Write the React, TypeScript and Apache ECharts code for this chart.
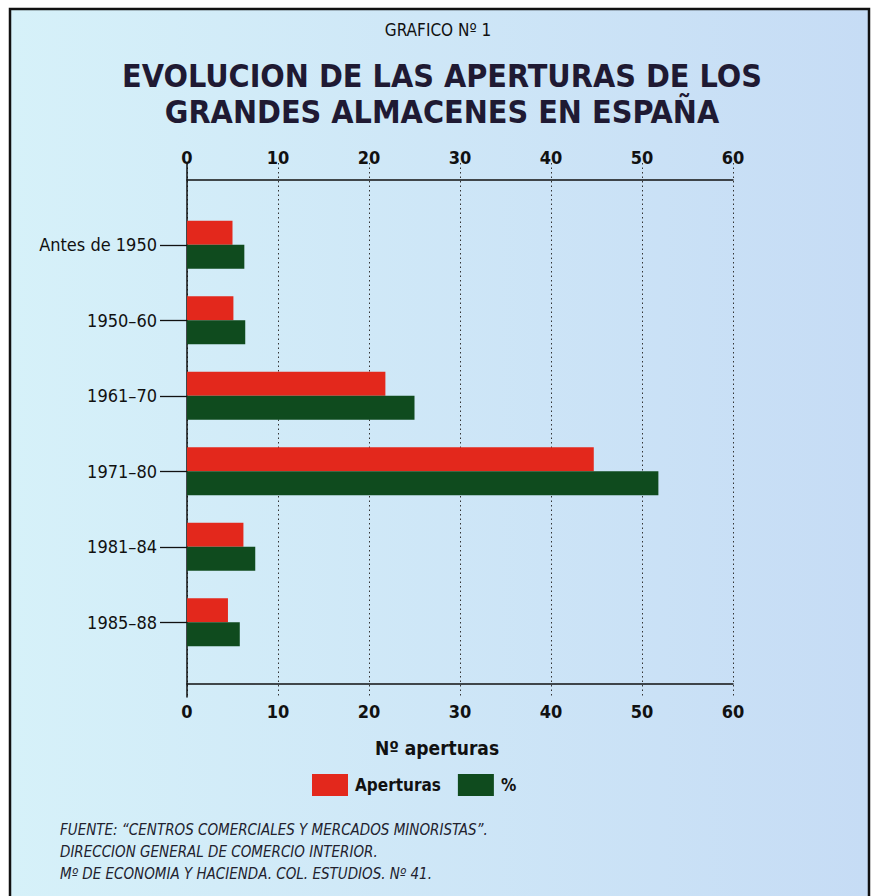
import React, { useEffect, useRef } from "react";
import * as echarts from "echarts";

const categories = ["Antes de 1950", "1950–60", "1961–70", "1971–80", "1981–84", "1985–88"];
const aperturas = [5.0, 5.1, 21.8, 44.7, 6.2, 4.5];
const porcentaje = [6.3, 6.4, 25.0, 51.8, 7.5, 5.8];
const xTicks = { min: 0, max: 60, interval: 10 };
const legendNames = ["Aperturas", "%"];
const supTitle = "GRAFICO Nº 1";
const titleLines = ["EVOLUCION DE LAS APERTURAS DE LOS", "GRANDES ALMACENES EN ESPAÑA"];
const axisName = "Nº aperturas";
const footerLines = [
  "FUENTE: \u201CCENTROS COMERCIALES Y MERCADOS MINORISTAS\u201D.",
  "DIRECCION GENERAL DE COMERCIO INTERIOR.",
  "Mº DE ECONOMIA Y HACIENDA. COL. ESTUDIOS. Nº 41.",
];

const NARROW = "'Liberation Sans Narrow', 'DejaVu Sans Condensed', 'Arial Narrow', sans-serif";

export default function App() {
  const ref = useRef<HTMLDivElement>(null);
  useEffect(() => {
    if (!ref.current) return;
    const chart = echarts.init(ref.current, null, { renderer: "svg" });
    const red = "#e3281c";
    const green = "#0f4b1e";
    chart.setOption({
      animation: false,
      graphic: [
        {
          type: "rect",
          shape: { x: 10, y: 9, width: 859, height: 905 },
          style: {
            fill: new echarts.graphic.LinearGradient(0, 0, 1, 0, [
              { offset: 0, color: "#d6f1f9" },
              { offset: 1, color: "#c6dcf5" },
            ]),
            stroke: "#111",
            lineWidth: 2.5,
          },
          z: -10,
        },
        {
          type: "text",
          x: 438,
          y: 30,
          style: { text: supTitle, font: `17px ${NARROW}`, fill: "#111", align: "center", verticalAlign: "middle" },
        },
        {
          type: "text",
          x: 442,
          y: 76,
          style: {
            text: titleLines[0],
            font: `bold 32px ${NARROW}`,
            fill: "#1f1a33",
            align: "center",
            verticalAlign: "middle",
          },
        },
        {
          type: "text",
          x: 442,
          y: 112,
          style: {
            text: titleLines[1],
            font: `bold 32px ${NARROW}`,
            fill: "#1f1a33",
            align: "center",
            verticalAlign: "middle",
          },
        },
        {
          type: "text",
          x: 437,
          y: 748,
          style: { text: axisName, font: `bold 19px ${NARROW}`, fill: "#111", align: "center", verticalAlign: "middle" },
        },
        {
          type: "text",
          x: 60,
          y: 819,
          style: {
            text: footerLines.join("\n"),
            font: `italic 15px ${NARROW}`,
            lineHeight: 22,
            fill: "#22222e",
          },
        },
      ],
      legend: {
        data: legendNames,
        left: 307,
        top: 769,
        itemWidth: 36,
        itemHeight: 22,
        itemGap: 17,
        icon: "rect",
        textStyle: { fontFamily: NARROW, fontWeight: "bold", fontSize: 17, color: "#111", padding: [0, 0, 0, 2] },
      },
      grid: [
        { left: 187, right: 143, top: 163, bottom: 199 },
        { left: 187, right: 143, top: 207, bottom: 236 },
      ],
      xAxis: [
        {
          gridIndex: 0,
          type: "value",
          position: "top",
          offset: -17,
          min: xTicks.min,
          max: xTicks.max,
          interval: xTicks.interval,
          axisLine: { show: true, onZero: false, lineStyle: { color: "#111", width: 1.5 } },
          axisTick: { show: false },
          axisLabel: { margin: 14, fontFamily: NARROW, fontWeight: "bold", fontSize: 18, color: "#111" },
          splitLine: { show: true, lineStyle: { type: [1.5, 3], color: "#333", width: 1 } },
        },
        {
          gridIndex: 0,
          type: "value",
          position: "bottom",
          offset: -13,
          min: xTicks.min,
          max: xTicks.max,
          interval: xTicks.interval,
          axisLine: { show: true, onZero: false, lineStyle: { color: "#111", width: 1.5 } },
          axisTick: { show: false },
          axisLabel: { margin: 18, fontFamily: NARROW, fontWeight: "bold", fontSize: 18, color: "#111" },
          splitLine: { show: false },
        },
        {
          gridIndex: 1,
          type: "value",
          min: xTicks.min,
          max: xTicks.max,
          show: false,
        },
      ],
      yAxis: [
        {
          gridIndex: 0,
          type: "value",
          axisLine: { show: true, onZero: false, lineStyle: { color: "#111", width: 1.5 } },
          axisTick: { show: false },
          axisLabel: { show: false },
          splitLine: { show: false },
        },
        {
          gridIndex: 1,
          type: "category",
          data: categories,
          inverse: true,
          axisLine: { show: false, onZero: false },
          axisTick: { show: true, alignWithLabel: true, length: 27, lineStyle: { color: "#111", width: 1.3 } },
          axisLabel: { margin: 30, fontFamily: NARROW, fontSize: 18, color: "#111" },
          splitLine: { show: false },
        },
      ],
      series: [
        {
          name: legendNames[0],
          type: "bar",
          xAxisIndex: 2,
          yAxisIndex: 1,
          data: aperturas,
          barWidth: 24,
          barGap: "0%",
          itemStyle: { color: red },
        },
        {
          name: legendNames[1],
          type: "bar",
          xAxisIndex: 2,
          yAxisIndex: 1,
          data: porcentaje,
          barWidth: 24,
          barGap: "0%",
          itemStyle: { color: green },
        },
      ],
    });
    return () => chart.dispose();
  }, []);
  return (
    <div
      ref={ref}
      style={{ position: "absolute", left: 0, top: 0, width: 876, height: 896, background: "#fff" }}
    />
  );
}
